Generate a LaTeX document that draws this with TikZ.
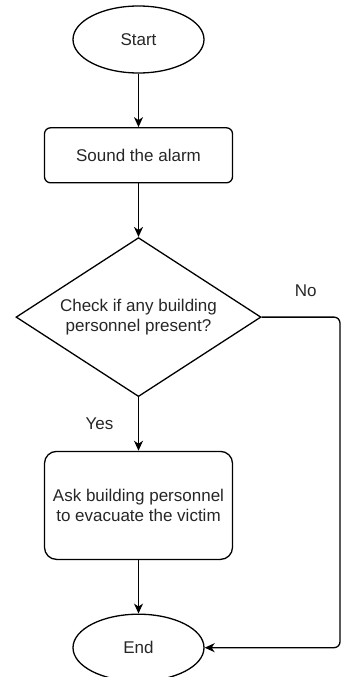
\documentclass[tikz,border=0pt]{standalone}
\usepackage{fontspec}
\setmainfont{Liberation Sans}
\usepackage{tikz}
\usetikzlibrary{arrows.meta, positioning, calc, shapes.geometric}

\begin{document}
\begin{tikzpicture}[
    node distance=53.5pt,
    every node/.style={font=\fontsize{17}{19.5}\selectfont, text=black!85},
    terminal/.style={ellipse, draw, line width=1.3pt, minimum width=131pt, minimum height=67pt, inner sep=0pt},
    process/.style={rectangle, draw, line width=1.3pt, rounded corners=6pt, minimum width=188pt, minimum height=55pt, align=center},
    decision/.style={diamond, draw, line width=1.3pt, shape aspect=1.54, minimum width=245pt, minimum height=159pt, inner sep=0pt, align=center},
    tag/.style={inner sep=2pt},
    arrow/.style={-{Stealth[length=10pt, width=9pt, inset=3pt]}, line width=1.3pt}
]
\useasboundingbox (0,0) rectangle (341pt,-677pt);

\node[terminal] (start) at (138.5pt,-39.5pt) {Start};
\node[process, below=of start] (sound-alarm) {Sound the alarm};
\node[decision, below=of sound-alarm] (check-staff) {Check if any building\\personnel present?};
\node[process, below=of check-staff, minimum height=108pt, rounded corners=12pt] (ask-staff) {Ask building personnel\\to evacuate the victim};
\node[terminal, below=of ask-staff] (finish) {End};

\coordinate (right-edge) at (340pt,0);

\draw[arrow] (start) -- (sound-alarm);
\draw[arrow] (sound-alarm) -- (check-staff);
\draw[arrow] (check-staff) -- (ask-staff);
\draw[arrow] (ask-staff) -- (finish);
\draw[arrow, rounded corners=6pt] (check-staff.east) -- (check-staff.east -| right-edge) |- (finish.east);

\node[tag] (yes-tag) at ($(check-staff.south)!0.5!(ask-staff.north)+(-39pt,0)$) {Yes};
\node[tag] (no-tag) at ($(check-staff.east)+(44pt,26pt)$) {No};

\end{tikzpicture}
\end{document}
